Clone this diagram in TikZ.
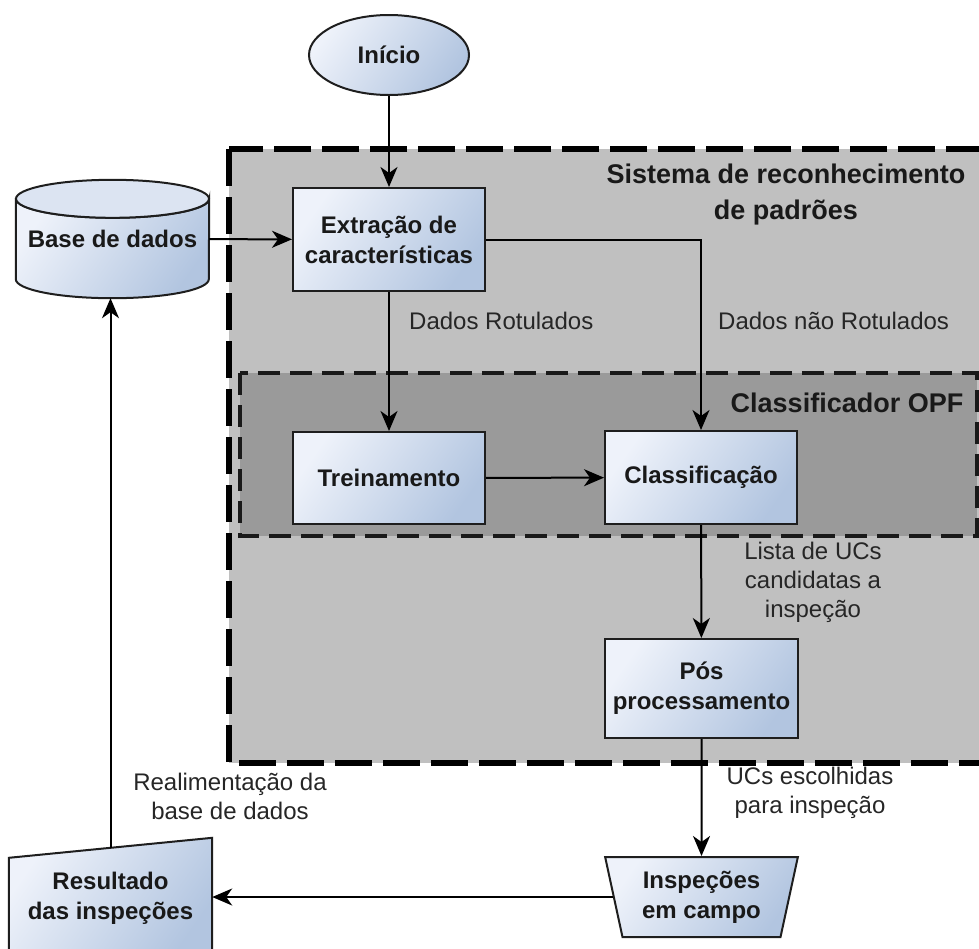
\documentclass[tikz,border=0pt]{standalone}
\usepackage{fontspec}
\setmainfont{Liberation Sans}
\usetikzlibrary{arrows.meta,shapes.geometric}
\pgfdeclarelayer{bg}
\pgfsetlayers{bg,main}
\definecolor{boxlight}{HTML}{EEF2FA}
\definecolor{boxdark}{HTML}{B2C5E0}
\definecolor{outergray}{HTML}{C0C0C0}
\definecolor{innergray}{HTML}{9A9A9A}
\definecolor{edgegray}{HTML}{1E1E1E}
\tikzset{
	casca/.style={draw=edgegray, line width=2pt, top color=boxlight, bottom color=boxdark, shading angle=55},
	texto/.style={font=\fontsize{24}{30}\selectfont\bfseries, align=center, inner sep=0pt, text=black!90},
	bloco/.style={casca, texto},
	rotulo/.style={font=\fontsize{24}{29}\selectfont, align=center, inner sep=0pt, text=black!85},
	titulo/.style={font=\fontsize{27}{36}\selectfont\bfseries, align=center, inner sep=0pt, text=black!90},
	regiao/.style={fill=outergray, draw=black, line width=6pt, dash pattern=on 37pt off 11pt},
	subregiao/.style={fill=innergray, draw=black!90, line width=4pt, dash pattern=on 22pt off 10pt},
	seta/.style={line width=2pt, -{Stealth[length=20pt, width=17pt, inset=6pt]}}
}

\begin{document}
\begin{tikzpicture}[x=1pt, y=1pt]
	%%%%% START %%%%%
	\useasboundingbox (0,0) rectangle (979,-948);

	% regioes tracejadas
	\draw[regiao] (229,-149) rectangle (1000,-763);
	\draw[subregiao] (240,-373) rectangle (977,-536);
	\node[titulo] (tsistema) at (786,-195) {Sistema de reconhecimento\\de padrões};
	\node[titulo] (topf) at (847,-403) {Classificador OPF};

	% blocos
	\node[bloco, ellipse, minimum width=160pt, minimum height=80pt] (inicio) at (389,-55) {Início};
	\node[bloco, minimum width=192pt, minimum height=103pt] (extracao) at (389,-239.5) {Extração de\\características};
	\node[bloco, minimum width=192pt, minimum height=92pt] (treino) at (389,-478) {Treinamento};
	\node[bloco, minimum width=192pt, minimum height=93pt] (classif) at (701,-477.5) {Classificação};
	\node[bloco, minimum width=193pt, minimum height=99pt] (posproc) at (701.5,-688.5) {Pós\\processamento};
	\node[bloco, trapezium, shape border rotate=180, trapezium angle=76, trapezium stretches=true,
		minimum width=193pt, minimum height=80pt] (inspecao) at (701.5,-897) {Inspeções\\em campo};
	\node[texto, minimum width=193pt, minimum height=118pt] (base) at (112.5,-239) {Base de dados};
	\node[texto, minimum width=203pt, minimum height=120pt] (resultado) at (110.5,-898) {Resultado\\das inspeções};

	\begin{pgfonlayer}{bg}
		% cilindro
		\draw[casca] ([yshift=-19pt]base.north west) -- ([yshift=19pt]base.south west)
			arc[start angle=180, end angle=360, x radius=96.5pt, y radius=19pt]
			-- ([yshift=-19pt]base.north east)
			arc[start angle=0, end angle=-180, x radius=96.5pt, y radius=19pt] -- cycle;
		\draw[draw=edgegray, line width=2pt, fill=boxlight!70!boxdark] ([yshift=-19pt]base.north) ellipse[x radius=96.5pt, y radius=19pt];
		% entrada manual
		\draw[casca] (resultado.south west) -- ([yshift=-20pt]resultado.north west)
			-- (resultado.north east) -- (resultado.south east) -- cycle;
	\end{pgfonlayer}

	% rotulos
	\node[rotulo, anchor=west] (lblrot) at (409,-321) {Dados Rotulados};
	\node[rotulo, anchor=west] (lblnrot) at (718,-321) {Dados não Rotulados};
	\node[rotulo] (lbllista) at (813,-582) {Lista de UCs\\candidatas a\\inspeção};
	\node[rotulo] (lblesc) at (810,-792.5) {UCs escolhidas\\para inspeção};
	\node[rotulo] (lblreal) at (230,-796.5) {Realimentação da\\base de dados};

	% conexoes
	\draw[seta] (inicio) -- (extracao);
	\draw[seta] (base) -- (extracao);
	\draw[seta] (extracao) -- (treino);
	\draw[seta] (extracao.east) -| (classif.north);
	\draw[seta] (treino) -- (classif);
	\draw[seta] (classif) -- (posproc);
	\draw[seta] (posproc) -- (inspecao);
	\draw[seta] (inspecao.west) -- (inspecao.west -| resultado.east);
	\draw[seta] ([yshift=-10pt]resultado.north) -- (resultado.north |- base.south);

	%%%%% END %%%%%
\end{tikzpicture}
\end{document}
